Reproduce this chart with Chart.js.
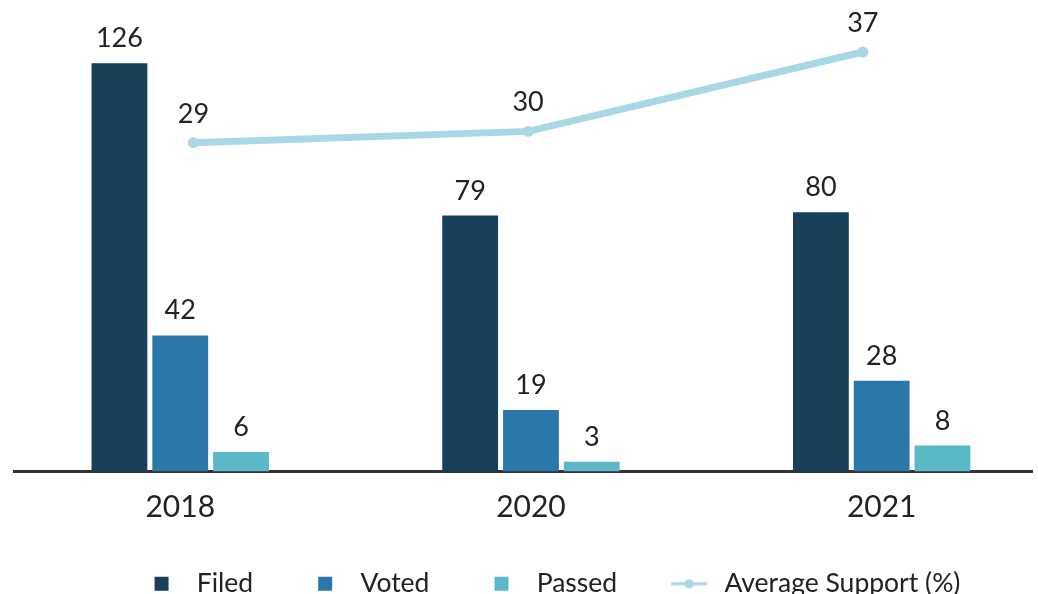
<!DOCTYPE html>
<html lang="en">
<head>
<meta charset="UTF-8">
<title>Filed, Voted, Passed and Average Support</title>
<script src="https://cdn.jsdelivr.net/npm/chart.js@4"></script>
<style>
    html, body { margin: 0; padding: 0; background: #fff; }
    .chart-container { position: relative; width: 1038px; height: 594px; }
</style>
</head>
<body>
<div class="chart-container"><canvas id="supportChart"></canvas></div>
<script>
// Data
const years = ['2018', '2020', '2021'];
const filed = [126, 79, 80];
const voted = [42, 19, 28];
const passed = [6, 3, 8];
const avgSupport = [29, 30, 37];

const seriesNames = ['Filed', 'Voted', 'Passed', 'Average Support (%)'];
const colors = ['#19405a', '#2a77a9', '#5ab8c9', '#a8d7e6'];
const textColor = '#222';
const fontFamily = "Lato, 'Noto Sans', sans-serif";

const toPoints = arr => arr.map((v, i) => ({ x: i, y: v }));
const yearTicks = s => { s.ticks = years.map((_, i) => ({ value: i })); };

// legend icon: transparent lead-in on the left gives the gap between items
function legendIcon(kind, color) {
    const c = document.createElement('canvas');
    c.width = 92;
    c.height = 24;
    const g = c.getContext('2d');
    const cx = c.width - 22, cy = c.height / 2;
    g.fillStyle = color;
    g.strokeStyle = color;
    if (kind === 'line') {
        g.lineWidth = 3;
        g.beginPath();
        g.moveTo(cx - 18, cy);
        g.lineTo(cx + 18, cy);
        g.stroke();
        g.beginPath();
        g.arc(cx, cy, 4.5, 0, Math.PI * 2);
        g.fill();
    } else {
        g.fillRect(cx - 7, cy - 7, 14, 14);
    }
    return c;
}

// value labels above bars and points
const valueLabels = {
    id: 'valueLabels',
    afterDatasetsDraw(chart) {
        const ctx = chart.ctx;
        ctx.save();
        ctx.font = `27px ${fontFamily}`;
        ctx.fillStyle = textColor;
        ctx.textAlign = 'center';
        ctx.textBaseline = 'alphabetic';
        chart.data.datasets.forEach((ds, di) => {
            const meta = chart.getDatasetMeta(di);
            const gap = ds.type === 'line' ? 20 : 16;
            meta.data.forEach((el, i) => {
                ctx.fillText(ds.data[i].y, el.x, el.y - gap);
            });
        });
        ctx.restore();
    }
};

// Chart.js splits the group in half when datasets use two x axes,
// so the bars get double the category share and a scale shifted by a quarter step
const groupShare = 0.52;
const barBase = {
    xAxisID: 'xBar',
    yAxisID: 'y',
    categoryPercentage: groupShare * 2,
    barPercentage: 0.918,
    borderWidth: 0
};

const axisMin = -0.474, axisMax = 2.43;

new Chart(document.getElementById('supportChart'), {
    type: 'bar',
    data: {
        datasets: [
            { ...barBase, label: seriesNames[0], data: toPoints(filed), backgroundColor: colors[0] },
            { ...barBase, label: seriesNames[1], data: toPoints(voted), backgroundColor: colors[1] },
            { ...barBase, label: seriesNames[2], data: toPoints(passed), backgroundColor: colors[2] },
            {
                type: 'line',
                label: seriesNames[3],
                data: toPoints(avgSupport),
                xAxisID: 'x2',
                yAxisID: 'y2',
                order: -1,
                borderColor: colors[3],
                backgroundColor: colors[3],
                borderWidth: 7,
                pointRadius: 5.5,
                pointBorderWidth: 0,
                pointBackgroundColor: colors[3],
                tension: 0
            }
        ]
    },
    options: {
        responsive: true,
        maintainAspectRatio: false,
        animation: false,
        layout: { padding: { top: 18, left: 14, right: 0, bottom: -13 } },
        scales: {
            // visible year axis
            x: {
                type: 'linear',
                position: 'bottom',
                offset: false,
                min: axisMin,
                max: axisMax,
                grid: { display: false, drawTicks: false, offset: false },
                border: { display: true, color: '#333', width: 3 },
                ticks: {
                    autoSkip: false,
                    maxRotation: 0,
                    padding: 18,
                    color: textColor,
                    font: { size: 30, family: fontFamily },
                    callback: v => years[v] ?? ''
                },
                afterBuildTicks: yearTicks,
                afterFit: s => { s.height = 97; }
            },
            xBar: {
                type: 'linear',
                display: false,
                offset: false,
                min: axisMin - groupShare / 2,
                max: axisMax - groupShare / 2,
                afterBuildTicks: yearTicks
            },
            x2: { type: 'linear', display: false, offset: false, min: -0.536, max: 2.507 },
            y: { display: false, min: 0, max: 140 },
            y2: { display: false, min: 0, max: 40 }
        },
        plugins: {
            tooltip: { enabled: false },
            legend: {
                position: 'bottom',
                labels: {
                    usePointStyle: true,
                    pointStyleWidth: 92,
                    padding: 2,
                    color: textColor,
                    font: { size: 26.5, family: fontFamily },
                    generateLabels(chart) {
                        return chart.data.datasets.map((ds, i) => ({
                            text: ds.label,
                            fillStyle: colors[i],
                            strokeStyle: colors[i],
                            lineWidth: 0,
                            fontColor: textColor,
                            pointStyle: legendIcon(ds.type === 'line' ? 'line' : 'box', colors[i]),
                            hidden: !chart.isDatasetVisible(i),
                            datasetIndex: i
                        }));
                    }
                }
            }
        }
    },
    plugins: [valueLabels]
});
</script>
</body>
</html>
